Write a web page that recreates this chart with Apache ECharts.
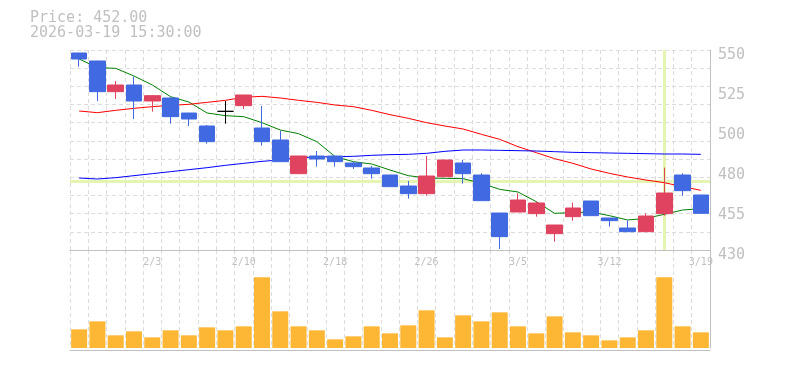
<!DOCTYPE html>
<html>
<head>
<meta charset="utf-8">
<script src="https://cdn.jsdelivr.net/npm/echarts@6/dist/echarts.min.js"></script>
<style>
html,body{margin:0;padding:0;background:#fff;}
#c{width:785px;height:370px;}
</style>
</head>
<body>
<div id="c"></div>
<script>
var dates = ['1/28','1/29','1/30','2/2','2/3','2/4','2/5','2/6','2/9','2/10','2/12','2/13','2/16','2/17','2/18','2/19','2/20','2/24','2/25','2/26','2/27','3/2','3/3','3/4','3/5','3/6','3/9','3/10','3/11','3/12','3/13','3/16','3/17','3/18','3/19'];
var opens  = [548.2,543.4,525,529,519.4,521.2,512.2,504.4,513.2,516.6,503.2,496,475.8,486.4,486.4,482.2,479.2,475,468.4,463.8,474,482.2,475,452.2,452.8,451.8,439.8,450,459.4,449.2,443.2,441,451.8,475,463];
var closes = [544.6,525,529,519.4,522.6,510,508.6,495,513.2,523,495,483,486.4,484.6,483,480,475.8,468,463.8,474.4,484,475.8,459.6,438,460,458.2,445,455.2,450.6,447.6,441,450.4,464.2,465.6,452];
var lows   = [540,519.4,520.6,508.6,513,505.8,504.4,493.8,505.8,514.6,492.6,483,475.8,480,480,478.6,472.8,468,460.8,462.6,474,469.8,459.6,430.6,452.8,450,435,447.6,450.6,444,441,441,450.6,462.6,452];
var highs  = [548.4,543.6,531.4,534,523,521.6,512.2,505,519.4,523,516.4,501.6,486.4,489.4,486.4,483,480.4,475,471.4,486.4,484,484,476,452.2,464,459.2,445,458.4,459.4,449.2,447.8,452,479.4,476,463];
var ma5  = [544.6,539.4,539,534.4,529,522,518.8,512.2,510.6,510,506.4,502,499.8,495,486,483,481.6,478,474.6,473.2,473,472.8,470,466.4,464.8,459,452,452.4,452.8,450.6,448,449,451.4,454,454.8];
var ma25 = [513.4,512.4,513.8,515,516,516.8,517.4,518.6,519.8,521.6,522.2,521.2,519.8,518.6,517,516,513.8,511.2,509,506.4,504.4,502.6,499.4,496.4,492,488.4,484.8,482,478.6,476,473.8,472,470.4,468,465.8];
var ma75 = [473.2,472.6,473.4,474.6,475.8,477,478.2,479.4,480.8,482,483.2,484,485.4,485.8,486,486.2,486.8,487.2,487.4,488,489.2,490,490,489.8,489.6,489.4,489,488.6,488.4,488.2,488,487.8,487.6,487.6,487.4];
var volumes = [56,80,38,50,32,53,38,62,53,65,212,110,65,53,26,35,65,44,68,113,32,98,80,107,65,44,95,47,38,23,32,53,212,65,47];
var priceMin = 430, priceMax = 550;
var labelTicks = 5, gridLines = 11;
var crossDate = '3/17', crossPrice = 471.2;
var stamp = '2026-03-19 15:30:00';

var MONO = 'DejaVu Sans Mono';
var GRAY = '#c0c0c0';
var DASH = {color:'#dcdcdc', type:[4,3], width:1};

var kdata = dates.map(function(d,i){
  var item = {value:[opens[i], closes[i], lows[i], highs[i]]};
  if (opens[i] === closes[i]) {
    item.itemStyle = {color:'#000', color0:'#000', borderColor:'#000', borderColor0:'#000'};
  }
  return item;
});

var chart = echarts.init(document.getElementById('c'), null, {renderer:'canvas'});
var span = priceMax - priceMin;
chart.setOption({
  animation:false,
  backgroundColor:'#fff',
  title:{
    text:'Price: ' + closes[closes.length-1].toFixed(2) + '\n' + stamp,
    left:30, top:11, padding:0,
    textStyle:{fontFamily:MONO, fontSize:15, fontWeight:'normal', color:GRAY, lineHeight:15}
  },
  grid:[
    {left:70, right:75, top:50, bottom:120},
    {left:70, right:75, top:250, bottom:22},
    {left:70, right:75, top:55, bottom:115}
  ],
  xAxis:[
    {type:'category', gridIndex:0, data:dates, boundaryGap:true,
     axisLine:{onZero:false, lineStyle:{color:GRAY, width:1}},
     axisTick:{show:false},
     axisLabel:{interval:function(i){return i % 5 === 4;}, color:GRAY, fontFamily:MONO, fontSize:10, margin:7},
     splitLine:{show:true, interval:0, lineStyle:DASH}},
    {type:'category', gridIndex:1, data:dates, boundaryGap:true, offset:2,
     axisLine:{onZero:false, lineStyle:{color:GRAY, width:1}},
     axisTick:{show:false}, axisLabel:{show:false},
     splitLine:{show:true, interval:0, lineStyle:DASH}},
    {type:'category', gridIndex:2, data:dates, show:false}
  ],
  yAxis:[
    {type:'value', gridIndex:0, min:priceMin, max:priceMax, position:'right', scale:true,
     axisLine:{show:true, lineStyle:{color:GRAY, width:1}}, axisTick:{show:false}, axisLabel:{show:false}, splitLine:{show:false}},
    {type:'value', gridIndex:0, min:0, max:gridLines, interval:1, position:'right',
     axisLine:{show:false}, axisTick:{show:false}, axisLabel:{show:false}, splitLine:{show:true, lineStyle:DASH}},
    {type:'value', gridIndex:2, min:0, max:span, interval:span/labelTicks, position:'right',
     axisLine:{show:false}, axisTick:{show:false}, splitLine:{show:false},
     axisLabel:{color:GRAY, fontFamily:MONO, fontSize:15, margin:8,
       formatter:function(v){return String(Math.round((v + priceMin)/5)*5);}}},
    {type:'value', gridIndex:1, min:0, max:294, position:'right',
     axisLine:{show:true, lineStyle:{color:GRAY, width:1}}, axisTick:{show:false}, axisLabel:{show:false}, splitLine:{show:false}}
  ],
  series:[
    {type:'candlestick', xAxisIndex:0, yAxisIndex:0, data:kdata, barWidth:16, z:3,
     itemStyle:{color:'#e0435f', color0:'#4169e1', borderColor:'#e0435f', borderColor0:'#4169e1', borderColorDoji:'#000', borderWidth:1},
     markLine:{z:1, silent:true, symbol:'none', label:{show:false},
       lineStyle:{color:'#e3f5b0', width:3, type:'solid'},
       emphasis:{disabled:true},
       data:[{xAxis:crossDate},{yAxis:crossPrice}]}},
    {type:'line', xAxisIndex:0, yAxisIndex:0, data:ma5, showSymbol:false, z:2, lineStyle:{color:'#008000', width:1}},
    {type:'line', xAxisIndex:0, yAxisIndex:0, data:ma25, showSymbol:false, z:2, lineStyle:{color:'#ff0000', width:1}},
    {type:'line', xAxisIndex:0, yAxisIndex:0, data:ma75, showSymbol:false, z:2, lineStyle:{color:'#0000ff', width:1}},
    {type:'bar', xAxisIndex:1, yAxisIndex:3, data:volumes, barWidth:16, itemStyle:{color:'#fdb735'}}
  ]
});
</script>
</body>
</html>
